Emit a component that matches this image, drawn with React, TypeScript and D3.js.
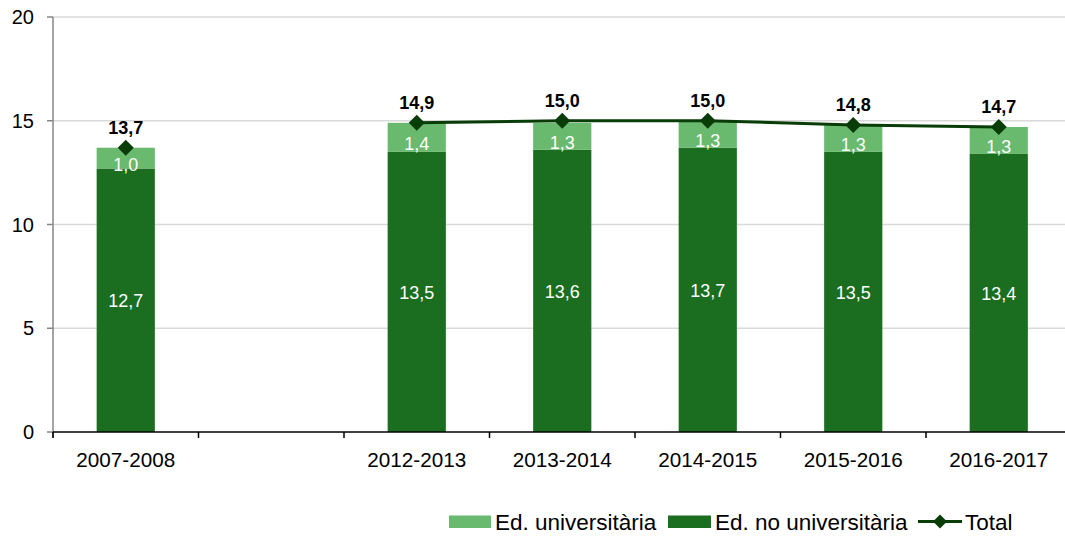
import React from "react";
import * as d3 from "d3";

const categories = ["2007-2008", "", "2012-2013", "2013-2014", "2014-2015", "2015-2016", "2016-2017"];
const noUniversitaria: (number | null)[] = [12.7, null, 13.5, 13.6, 13.7, 13.5, 13.4];
const universitaria: (number | null)[] = [1.0, null, 1.4, 1.3, 1.3, 1.3, 1.3];
const total: (number | null)[] = [13.7, null, 14.9, 15.0, 15.0, 14.8, 14.7];
const yTicks = [0, 5, 10, 15, 20];

const C_DARK = "#1b6e20";
const C_LIGHT = "#69b96e";
const C_LINE = "#083d08";
const FONT = "'Liberation Sans', Arial, sans-serif";

const fmt = (v: number) => v.toFixed(1).replace(".", ",");

export default function App() {
  const W = 1065, H = 536;
  const x = d3.scaleBand<string>().domain(categories).range([53, 1071.5]).paddingInner(0.6).paddingOuter(0.3);
  const y = d3.scaleLinear().domain([0, 20]).range([432, 17]);
  const step = x.step();
  const bw = x.bandwidth();
  const cx = (c: string) => (x(c) as number) + bw / 2;

  const line = d3
    .line<number | null>()
    .defined((d) => d !== null)
    .x((_, i) => cx(categories[i]))
    .y((d) => y(d as number));

  const boundaries = d3.range(categories.length + 1).map((i) => 53 + i * step);
  const diamond = (px: number, py: number, r: number) =>
    `M${px},${py - r}L${px + r},${py}L${px},${py + r}L${px - r},${py}Z`;

  return (
    <svg width={W} height={H} style={{ position: "absolute", left: 0, top: 0, background: "#fff" }} fontFamily={FONT}>
      {/* gridlines */}
      {yTicks.filter((t) => t > 0).map((t) => (
        <line key={t} x1={53} x2={W} y1={y(t)} y2={y(t)} stroke="#d9d9d9" strokeWidth={1.5} />
      ))}
      {/* y axis */}
      <line x1={53} x2={53} y1={y(20)} y2={438} stroke="#868686" strokeWidth={1.5} />
      {yTicks.map((t) => (
        <g key={t}>
          <line x1={47} x2={53} y1={y(t)} y2={y(t)} stroke="#868686" strokeWidth={1.5} />
          <text x={34} y={y(t) + 7} textAnchor="end" fontSize={20} fill="#000">{t}</text>
        </g>
      ))}
      {/* bars */}
      {categories.map((c, i) => {
        const a = noUniversitaria[i];
        const b = universitaria[i];
        if (a === null || b === null) return null;
        const x0 = x(c) as number;
        return (
          <g key={c}>
            <rect x={x0} width={bw} y={y(a)} height={y(0) - y(a)} fill={C_DARK} />
            <rect x={x0} width={bw} y={y(a + b)} height={y(a) - y(a + b)} fill={C_LIGHT} />
            <text x={cx(c)} y={y(a / 2) + 7} textAnchor="middle" fontSize={18} fill="#fff">{fmt(a)}</text>
            <text x={cx(c)} y={y(a + b / 2) + 13} textAnchor="middle" fontSize={18} fill="#fff">{fmt(b)}</text>
          </g>
        );
      })}
      {/* x axis */}
      <line x1={53} x2={W} y1={y(0)} y2={y(0)} stroke="#000" strokeWidth={1.5} />
      {boundaries.map((bx, i) => (
        <line key={i} x1={bx} x2={bx} y1={y(0)} y2={y(0) + 6} stroke="#000" strokeWidth={1.5} />
      ))}
      {categories.map((c) => (
        <text key={"l" + c} x={cx(c)} y={467} textAnchor="middle" fontSize={20.7} fill="#000">{c}</text>
      ))}
      {/* total line */}
      <path d={line(total) || ""} fill="none" stroke={C_LINE} strokeWidth={3} />
      {categories.map((c, i) => {
        const t = total[i];
        if (t === null) return null;
        return (
          <g key={"t" + c}>
            <path d={diamond(cx(c), y(t), 8)} fill={C_LINE} />
            <text x={cx(c)} y={y(t) - 14} textAnchor="middle" fontSize={18} fontWeight="bold" fill="#000">{fmt(t)}</text>
          </g>
        );
      })}
      {/* legend */}
      <g fontSize={22.5} fill="#000">
        <rect x={449} y={515.5} width={42} height={12.5} fill={C_LIGHT} />
        <text x={495} y={530}>Ed. universitària</text>
        <rect x={668} y={515.5} width={43} height={12.5} fill={C_DARK} />
        <text x={715} y={530}>Ed. no universitària</text>
        <line x1={918} x2={962} y1={521.5} y2={521.5} stroke={C_LINE} strokeWidth={3} />
        <path d={diamond(940, 521.5, 7)} fill={C_LINE} />
        <text x={965} y={530}>Total</text>
      </g>
    </svg>
  );
}
